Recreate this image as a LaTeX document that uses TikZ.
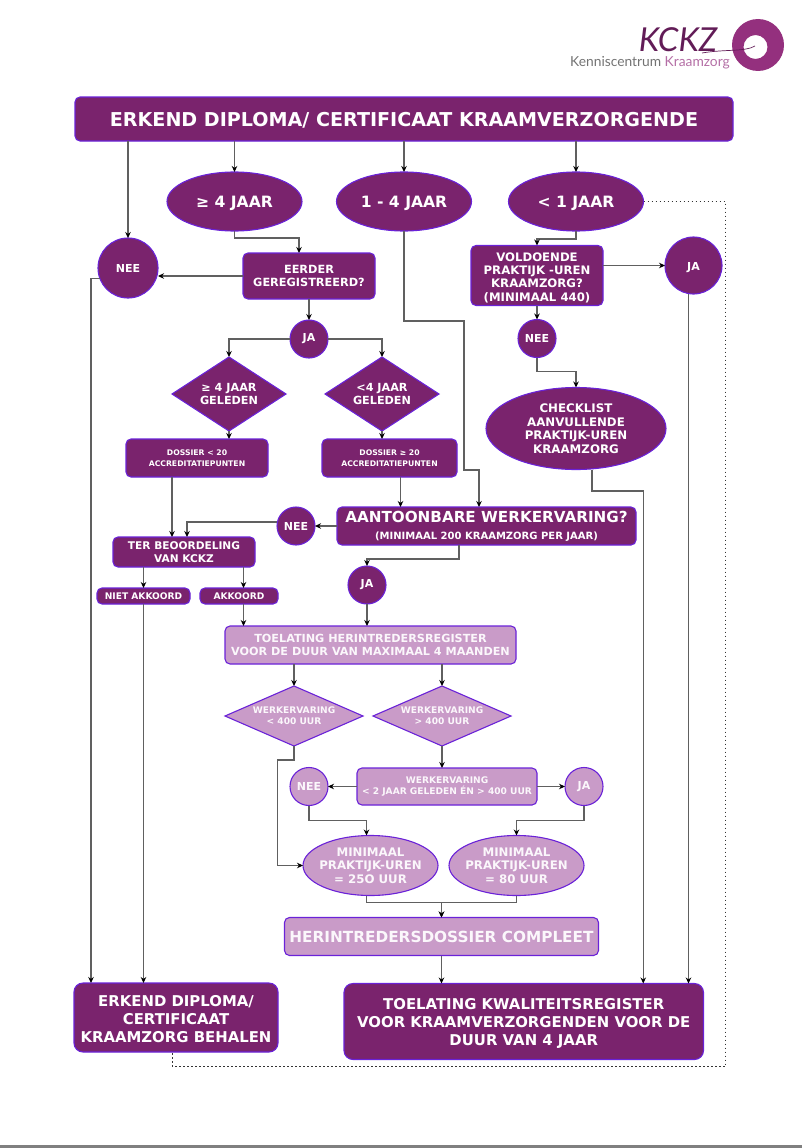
\documentclass[tikz,border=0pt]{standalone}
\usepackage{fontspec}
\setmainfont{DejaVu Sans}[BoldFont={DejaVu Sans Bold}]
\newfontfamily\logofont{Lato}
\usetikzlibrary{arrows.meta,calc,positioning,shapes.geometric}

\definecolor{kzdark}{HTML}{7A236D}
\definecolor{kzlight}{HTML}{C99BC8}
\definecolor{kzedge}{HTML}{6A22D8}
\definecolor{kzring}{HTML}{94307E}
\definecolor{kzline}{HTML}{606060}
\newcommand{\sz}[2]{\fontsize{#1}{#2}\selectfont\bfseries}
\newcommand{\lift}[1]{\rule{0pt}{#1}}

\begin{document}
\begin{tikzpicture}[
            base/.style={
                draw=kzedge,
                line width=1.1pt,
                align=center,
                text=white,
                inner sep=0pt,
                outer sep=0pt
            },
            darkbox/.style={base, rounded corners=5pt, fill=kzdark},
            lightbox/.style={base, rounded corners=5pt, fill=kzlight, text=white!92!kzlight},
            darkoval/.style={base, ellipse, inner sep=-5pt, fill=kzdark},
            lightoval/.style={base, ellipse, inner sep=-7pt, fill=kzlight, text=white!92!kzlight},
            darkdia/.style={base, diamond, shape aspect=1.54, inner sep=-4pt, fill=kzdark,
                minimum width=114pt, minimum height=74pt},
            lightdia/.style={base, diamond, shape aspect=2.3, inner sep=-4pt, fill=kzlight, text=white!92!kzlight,
                minimum width=138pt, minimum height=60pt},
            darkdot/.style={base, circle, fill=kzdark, minimum size=38pt, font=\sz{11}{13}},
            lightdot/.style={base, circle, fill=kzlight, text=white!92!kzlight,
                minimum size=38pt, font=\sz{11}{13}},
            flow/.style={->, >={Stealth[length=6pt, width=5.5pt, black]}, color=kzline, line width=1.2pt},
            dotline/.style={color=black!80, line width=1.5pt, dash pattern=on 1.5pt off 2.5pt}
        ]

            \useasboundingbox (0,0) rectangle (802pt,-1148pt);
            \fill[gray] (0,-1145pt) rectangle (802pt,-1148pt);

            % logo
            \fill[kzring, even odd rule]
                (758pt,-45pt) circle (26pt)
                (755.5pt,-47pt) circle (12pt);
            \node[inner sep=0pt, text depth=0pt, font=\logofont\itshape\fontsize{33}{33}\selectfont, text=kzdark!80!black]
                (logoname) at (678pt,-40pt) {KCKZ};
            \node[inner sep=0pt, font=\logofont\fontsize{13.8}{14}\selectfont, text=black!55]
                (logotext) at (650pt,-63pt)
                {Kenniscentrum \textcolor{kzring!70}{Kraamzorg}};
            \draw[kzdark!80!black, line width=0.7pt]
                (702pt,-53pt) .. controls (725pt,-49pt) and (745pt,-52pt) .. (755pt,-46pt);

            % top row
            \node[darkbox, minimum width=658pt, minimum height=44pt, font=\sz{19.1}{22}, text height=16pt]
                (title) at (404pt,-119pt) {ERKEND DIPLOMA/ CERTIFICAAT KRAAMVERZORGENDE};

            \node[darkoval, minimum width=135pt, minimum height=59pt, font=\sz{15.6}{18}, text height=15pt,
                below=31pt of title, xshift=-169.5pt] (fouryears) {≥ 4 JAAR};
            \node[darkoval, minimum width=135pt, minimum height=59pt, font=\sz{15.6}{18}, text height=15pt,
                below=31pt of title] (oneyears) {1 - 4 JAAR};
            \node[darkoval, minimum width=135pt, minimum height=59pt, font=\sz{15.6}{18}, text height=15pt,
                below=31pt of title, xshift=172pt] (lessyear) {< 1 JAAR};

            \node[darkdot, minimum size=60pt, below=97pt of title, xshift=-276pt] (neetop) {NEE};

            % left branch
            \node[darkbox, minimum width=132pt, minimum height=46pt, font=\sz{11.3}{13.5},
                below=22pt of fouryears, xshift=74.5pt] (eerder) {EERDER\\GEREGISTREERD?};
            \node[darkdot, below=21pt of eerder] (jatop) {JA};
            \node[darkdia, font=\sz{11.2}{13}, below=-1pt of jatop, xshift=-80pt]
                (diafour) {≥ 4 JAAR\\GELEDEN};
            \node[darkdia, font=\sz{11.2}{13}, below=-1pt of jatop, xshift=73pt]
                (dialess) {<4 JAAR\\GELEDEN};
            \node[darkbox, minimum width=142pt, minimum height=38pt, font=\sz{7.7}{11},
                below=8pt of diafour, xshift=-32pt] (dossierlow) {DOSSIER < 20\\ACCREDITATIEPUNTEN};
            \node[darkbox, minimum width=135pt, minimum height=38pt, font=\sz{7.7}{11},
                below=8pt of dialess, xshift=7.5pt] (dossierhigh) {DOSSIER ≥ 20\\ACCREDITATIEPUNTEN};

            % work experience
            \node[darkbox, minimum width=299pt, minimum height=38pt, font=\sz{10}{12},
                below=30pt of dossierhigh, xshift=97pt] (werk)
                {{\sz{15.2}{17}AANTOONBARE WERKERVARING?}\\[5pt](MINIMAAL 200 KRAAMZORG PER JAAR)};
            \node[darkdot, left=22pt of werk] (neewerk) {NEE};
            \node[darkbox, minimum width=142pt, minimum height=30pt, font=\sz{10.6}{12.7},
                below=60pt of dossierlow, xshift=-13pt] (beoordeling) {TER BEOORDELING\\VAN KCKZ};
            \node[darkbox, minimum width=93pt, minimum height=16pt, font=\sz{9.1}{10},
                below=21pt of beoordeling, xshift=-40.5pt] (nietakk) {NIET AKKOORD};
            \node[darkbox, minimum width=78pt, minimum height=16pt, font=\sz{9.1}{10},
                below=21pt of beoordeling, xshift=55pt] (akkoord) {AKKOORD};
            \node[darkdot, below=21pt of werk, xshift=-119.5pt] (jawerk) {JA};

            % re-entry register
            \node[lightbox, minimum width=291pt, minimum height=38pt, font=\sz{11.2}{13.5},
                below=22pt of jawerk, xshift=3.5pt] (herreg)
                {TOELATING HERINTREDERSREGISTER\\VOOR DE DUUR VAN MAXIMAAL 4 MAANDEN};
            \node[lightdia, font=\sz{9.1}{11}, below=22pt of herreg, xshift=-76.5pt]
                (dialow) {WERKERVARING\\< 400 UUR};
            \node[lightdia, font=\sz{9.1}{11}, below=22pt of herreg, xshift=71.5pt]
                (diahigh) {WERKERVARING\\> 400 UUR};
            \node[lightbox, minimum width=180pt, minimum height=37pt, font=\sz{9.1}{11},
                below=22pt of diahigh, xshift=5pt] (recent)
                {WERKERVARING\\< 2 JAAR GELEDEN ÉN > 400 UUR};
            \node[lightdot, left=29pt of recent] (neerecent) {NEE};
            \node[lightdot, right=28pt of recent] (jarecent) {JA};
            \node[lightoval, minimum width=135pt, minimum height=60pt, font=\sz{11.8}{13.5},
                below=30pt of neerecent, xshift=61.5pt] (uren) {MINIMAAL\\PRAKTIJK-UREN\\= 25O UUR};
            \node[lightoval, minimum width=135pt, minimum height=60pt, font=\sz{11.8}{13.5},
                below=30pt of jarecent, xshift=-67.5pt] (urenlow) {MINIMAAL\\PRAKTIJK-UREN\\= 80 UUR};
            \node[lightbox, minimum width=314pt, minimum height=38pt, font=\sz{15.3}{18},
                below=22pt of uren, xshift=71pt] (compleet) {HERINTREDERSDOSSIER COMPLEET};

            % end points
            \node[darkbox, rounded corners=9pt, minimum width=204pt, minimum height=69pt, font=\sz{14.9}{18},
                below=379pt of nietakk, xshift=32.5pt] (behalen)
                {\lift{15pt}ERKEND DIPLOMA/\\CERTIFICAAT\\KRAAMZORG BEHALEN};
            \node[darkbox, rounded corners=9pt, minimum width=359.5pt, minimum height=76pt, font=\sz{14.9}{18},
                below=28pt of compleet, xshift=82.25pt] (kwaliteit)
                {\lift{15pt}TOELATING KWALITEITSREGISTER\\VOOR KRAAMVERZORGENDEN VOOR DE\\DUUR VAN 4 JAAR};

            % right branch
            \node[darkbox, minimum width=132pt, minimum height=60pt, font=\sz{11.7}{13.3},
                below=14.5pt of lessyear, xshift=-39pt] (voldoende)
                {\lift{13pt}VOLDOENDE\\PRAKTIJK -UREN\\KRAAMZORG?\\(MINIMAAL 440)};
            \node[darkdot, minimum size=57pt, text height=13pt, right=62pt of voldoende, yshift=10pt] (jaright) {JA};
            \node[darkdot, below=14pt of voldoende] (neeright) {NEE};
            \node[darkoval, inner sep=-7pt, minimum width=180pt, minimum height=82pt, font=\sz{11.8}{13.5},
                below=30pt of neeright, xshift=39pt] (checklist)
                {CHECKLIST\\AANVULLENDE\\PRAKTIJK-UREN\\KRAAMZORG};

            % connectors
            \draw[flow] (neetop.north |- title.south) -- (neetop.north);
            \draw[flow] (fouryears.north |- title.south) -- (fouryears.north);
            \draw[flow] (oneyears.north |- title.south) -- (oneyears.north);
            \draw[flow] (lessyear.north |- title.south) -- (lessyear.north);

            \draw[flow] (fouryears.south) -- ++(0,-7pt) -| ([xshift=-10pt]eerder.north);
            \draw[flow] (eerder.west) -- (eerder.west -| neetop.east);
            \draw[flow] (eerder.south) -- (jatop.north);
            \draw[flow] (jatop.west) -| (diafour.north);
            \draw[flow] (jatop.east) -| (dialess.north);
            \draw[flow] (diafour.south) -- (diafour.south |- dossierlow.north);
            \draw[flow] (dialess.south) -- (dialess.south |- dossierhigh.north);
            \draw[flow] ([xshift=-25pt]dossierlow.south)
                -- ([xshift=-25pt]dossierlow.south |- beoordeling.north);
            \draw[flow] ([xshift=11pt]dossierhigh.south)
                -- ([xshift=11pt]dossierhigh.south |- werk.north);
            \draw[flow] (werk.west) -- (neewerk.east);
            \draw[flow] ([yshift=4pt]neewerk.west) -| ([xshift=3pt]beoordeling.north);
            \draw[flow] (nietakk.north |- beoordeling.south) -- (nietakk.north);
            \draw[flow] ([xshift=4.5pt]akkoord.north |- beoordeling.south) -- ([xshift=4.5pt]akkoord.north);
            \draw[flow] (nietakk.south) -- (nietakk.south |- behalen.north);
            \draw[flow] ([xshift=4.5pt]akkoord.south) -- ([xshift=4.5pt]akkoord.south |- herreg.north);
            \draw[flow] (neetop.200) -| ([xshift=-85pt]behalen.north);

            \draw[flow] (oneyears.south) -- ++(0,-90pt) -- ++(60pt,0) -- ++(0,-149pt)
                -- ++(15pt,0) -- ([xshift=-7.5pt]werk.north);
            \draw[flow] ([xshift=-27.5pt]werk.south) -- ++(0,-14pt) -| (jawerk.north);
            \draw[flow] (jawerk.south) -- (jawerk.south |- herreg.north);

            \draw[flow] (dialow.north |- herreg.south) -- (dialow.north);
            \draw[flow] (diahigh.north |- herreg.south) -- (diahigh.north);
            \draw[flow] (dialow.south) -- ++(0,-14pt) -- ++(-16.5pt,0) |- (uren.west);
            \draw[flow] (diahigh.south) -- (diahigh.south |- recent.north);
            \draw[flow] (recent.west) -- (neerecent.east);
            \draw[flow] (recent.east) -- (jarecent.west);
            \draw[flow] (neerecent.south) -- ++(0,-15pt) -| ([xshift=-4pt]uren.north);
            \draw[flow] (jarecent.south) -- ++(0,-15pt) -| (urenlow.north);
            \draw[flow] ([xshift=-4pt]uren.south) -- ++(0,-7pt) -| (compleet.north);
            \draw[flow] (urenlow.south) -- ++(0,-7pt) -| (compleet.north);
            \draw[flow] (compleet.south) -- (compleet.south |- kwaliteit.north);

            \draw[flow] (lessyear.south) -- ++(0,-8pt) -| (voldoende.north);
            \draw[flow] (voldoende.east |- jaright.west) -- (jaright.west);
            \draw[flow] (voldoende.south) -- (neeright.north);
            \draw[flow] (neeright.south) -- ++(0,-14pt) -| (checklist.north);
            \draw[flow] ([xshift=16pt]checklist.south) -- ++(0,-21.5pt) -| ([xshift=119.5pt]kwaliteit.north);
            \draw[flow] ([xshift=-5pt]jaright.south) -- ([xshift=-5pt]jaright.south |- kwaliteit.north);

            \draw[dotline] (lessyear.east) -- ++(82pt,0) -- ++(0,-865pt) -| ([xshift=-3.5pt]behalen.south);

        \end{tikzpicture}
\end{document}
